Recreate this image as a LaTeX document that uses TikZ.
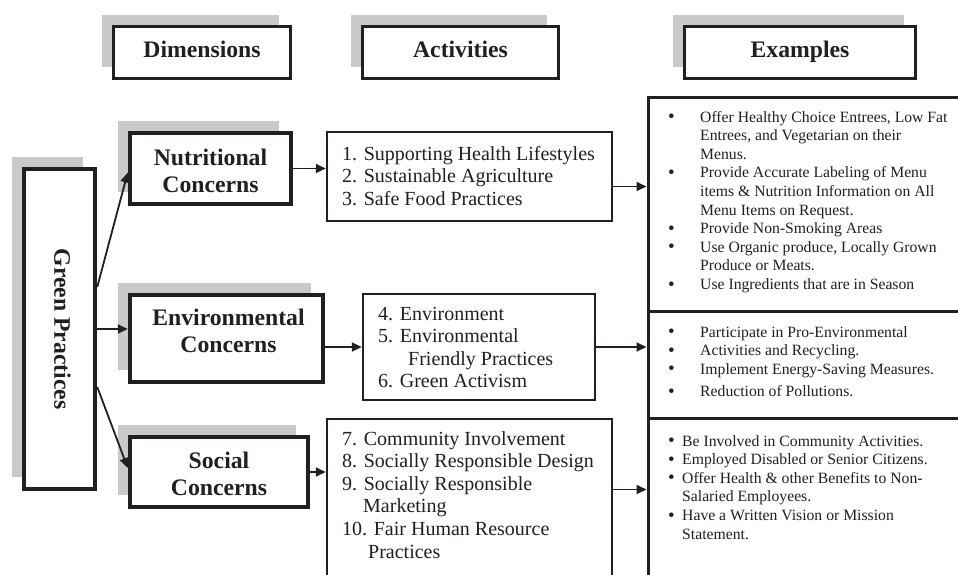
\documentclass[tikz,border=0pt]{standalone}
\usepackage{fontspec}
\setmainfont{Liberation Serif}
\usetikzlibrary{arrows.meta,shadows,fit}

\definecolor{ink}{RGB}{35,31,32}
\definecolor{shade}{RGB}{200,201,203}

% bullet and hanging indent for the example lists
\newcommand{\blt}[1]{\makebox[#1][l]{\raisebox{-0.6pt}{\fontsize{19}{19}\selectfont\textbullet}}}
\newcommand{\hang}[1]{\hspace*{#1}}
\newcommand{\rows}[1]{\begin{tabular}[t]{@{}l@{}}#1\end{tabular}}
\newcommand{\crows}[1]{\begin{tabular}[t]{@{}c@{}}#1\end{tabular}}

\tikzset{
  shadowed/.style={general shadow={fill=shade, shadow xshift=-12pt, shadow yshift=12pt}},
  titlebox/.style={draw=ink, line width=3pt, fill=white, shadowed, inner sep=0pt},
  dimbox/.style={titlebox, line width=4.5pt},
  boldtext/.style={anchor=base, inner sep=0pt, text=ink, font=\bfseries\fontsize{23.7}{27}\selectfont},
  actbox/.style={draw=ink, line width=2.5pt, fill=white, inner sep=0pt},
  exbox/.style={draw=ink, line width=3pt, fill=white, inner sep=0pt},
  link/.style={draw=ink, line width=1.8pt, -{Triangle[length=10pt,width=9pt]}},
  acttext/.style={anchor=base west, inner sep=0pt, text=ink, font=\fontsize{20}{22.6}\selectfont},
  extext/.style={anchor=base west, inner sep=0pt, text=ink, font=\fontsize{15.7}{18.6}\selectfont},
}

\begin{document}
\begin{tikzpicture}[x=1pt, y=-1pt]
\useasboundingbox (0,0) rectangle (958,574);
\clip (0,0) rectangle (958,574);

% column headers
\node[titlebox, fit={(113.5,26.5) (290.5,78.5)}] (hdim) {};
\node[titlebox, fit={(362.5,26.5) (558.5,78.5)}] (hact) {};
\node[titlebox, fit={(684.5,26.5) (915.5,78.5)}] (hex) {};
\node[boldtext] at ([yshift=-4.5pt]hdim.center) (hdimtext) {Dimensions};
\node[boldtext] at ([yshift=-4.5pt]hact.center) (hacttext) {Activities};
\node[boldtext] at ([yshift=-4.5pt]hex.center) (hextext) {Examples};

% root box
\node[dimbox, fit={(24,169) (95,489)}] (gp) {};
\node[rotate=-90, inner sep=0pt, text=ink, font=\bfseries\fontsize{23.7}{27}\selectfont] at ([xshift=3pt]gp.center) (gptext) {Green Practices};

% dimensions
\node[dimbox, fit={(130,133) (291,204)}] (nut) {};
\node[dimbox, fit={(130,295) (323,382)}] (env) {};
\node[dimbox, fit={(130,437) (308,507)}] (soc) {};
\node[boldtext] at ([yshift=3.5pt]nut.center) (nuttext) {\crows{Nutritional\\Concerns}};
\node[boldtext] at ([yshift=13.5pt, xshift=2pt]env.center) (envtext) {\crows{Environmental\\Concerns}};
\node[boldtext] at ([yshift=4pt]soc.center) (soctext) {\crows{Social\\Concerns}};

% activities
\node[actbox, fit={(327,132) (612,221)}] (a1) {};
\node[actbox, fit={(363,294) (595,400)}] (a2) {};
\node[actbox, fit={(327,419) (612,600)}] (a3) {};

\node[acttext] at (342,160) (a1text) {\rows{1. Supporting Health Lifestyles\\2. Sustainable Agriculture\\3. Safe Food Practices}};
\node[acttext] at (378,320) (a2text) {\rows{4. Environment\\5. Environmental\\\hang{30pt}Friendly Practices\\6. Green Activism}};
\node[acttext] at (342,445) (a3text) {\rows{7. Community Involvement\\8. Socially Responsible Design\\9. Socially Responsible\\\hang{21pt}Marketing\\10. Fair Human Resource\\\hang{26pt}Practices}};

% examples
\node[exbox, fit={(648,97) (975,311)}] (e1) {};
\node[exbox, fit={(648,311) (975,418)}] (e2) {};
\node[exbox, fit={(648,418) (975,600)}] (e3) {};

\node[extext] at (668,122) (e1text) {\rows{%
\blt{32pt}Offer Healthy Choice Entrees, Low Fat\\
\hang{32pt}Entrees, and Vegetarian on their\\
\hang{32pt}Menus.\\
\blt{32pt}Provide Accurate Labeling of Menu\\
\hang{32pt}items \& Nutrition Information on All\\
\hang{32pt}Menu Items on Request.\\
\blt{32pt}Provide Non-Smoking Areas\\
\blt{32pt}Use Organic produce, Locally Grown\\
\hang{32pt}Produce or Meats.\\
\blt{32pt}Use Ingredients that are in Season}};

\node[extext] at (668,337) (e2text) {\rows{%
\blt{32pt}Participate in Pro-Environmental\\
\blt{32pt}Activities and Recycling.\\
\blt{32pt}Implement Energy-Saving Measures.\\[4pt]
\blt{32pt}Reduction of Pollutions.}};

\node[extext] at (668,446) (e3text) {\rows{%
\blt{14pt}Be Involved in Community Activities.\\
\blt{14pt}Employed Disabled or Senior Citizens.\\
\blt{14pt}Offer Health \& other Benefits to Non-\\
\hang{14pt}Salaried Employees.\\
\blt{14pt}Have a Written Vision or Mission\\
\hang{14pt}Statement.}};

% connectors
\draw[link] ([yshift=42pt]gp.east) -- ([yshift=-4pt]nut.west);
\draw[link] (gp.east) -- (gp.east -| env.west);
\draw[link] ([yshift=-58pt]gp.east) -- ([yshift=4pt]soc.west);

\draw[link] (nut.east) -- (nut.east -| a1.west);
\draw[link] (a2.west -| env.east) -- (a2.west);
\draw[link] (soc.east) -- (soc.east -| a3.west);

\draw[link] ([yshift=-10pt]a1.east) -- ([yshift=-10pt]a1.east -| e1.west);
\draw[link] (a2.east) -- (a2.east -| e2.west);
\draw[link] ([yshift=20pt]a3.east) -- ([yshift=20pt]a3.east -| e3.west);
\end{tikzpicture}
\end{document}
